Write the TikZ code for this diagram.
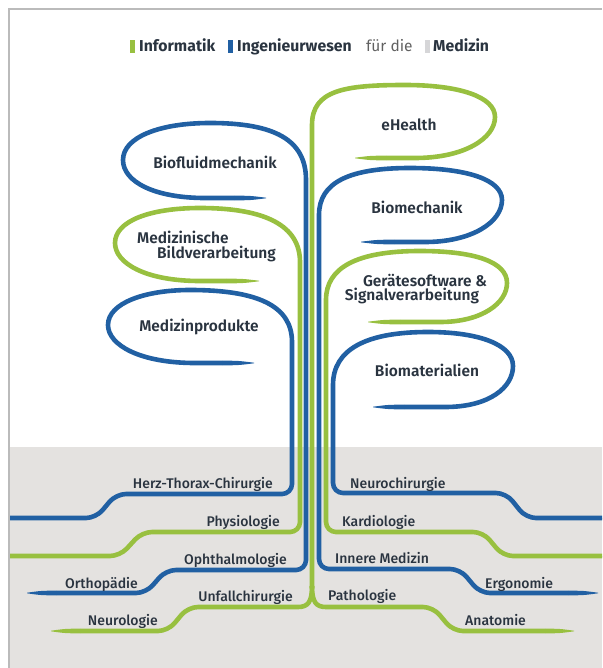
\documentclass[tikz,border=0pt]{standalone}
\usepackage{fontspec}
\setmainfont{Fira Sans}
\newfontfamily\semib{Fira Sans SemiBold}
\newfontfamily\medf{Fira Sans Medium}
\definecolor{igreen}{HTML}{98C040}
\definecolor{iblue}{HTML}{2160A3}
\definecolor{mgray}{HTML}{E4E2E0}
\definecolor{bgray}{HTML}{BBBBBB}
\definecolor{tcol}{HTML}{2A3440}
\definecolor{lgray}{HTML}{D6D6D8}
\newcommand{\tpr}[4]{\fill[#1] (#2,#4-2.3) .. controls ($(#2,#4-2.3)!0.5!(#3,#4-2.3)$) .. (#3,#4-0.3) -- (#3,#4+0.3) .. controls ($(#2,#4+2.3)!0.5!(#3,#4+2.3)$) .. (#2,#4+2.3) -- cycle;}
\usetikzlibrary{calc}
\begin{document}
\begin{tikzpicture}[x=1pt,y=-1pt,
  shadowed/.style={preaction={draw=black,draw opacity=0.25,transform canvas={shift={(0.5pt,-0.9pt)}}}},
  gl/.style={draw=igreen,line width=4.6pt,line cap=butt,line join=round,shadowed},
  bl/.style={draw=iblue,line width=4.6pt,line cap=butt,line join=round,shadowed},
  looplab/.style={font=\semib\fontsize{15.5}{17}\selectfont,text=tcol,inner sep=0pt},
  brlab/.style={font=\medf\fontsize{14}{16}\selectfont,text=tcol,inner sep=0pt},
  leglab/.style={font=\bfseries\fontsize{15.8}{18}\selectfont,text=tcol,inner sep=0pt,anchor=base west},
]
\useasboundingbox (0,0) rectangle (602,668);
% background
\fill[mgray] (9.6,447) rectangle (602,668);
\draw[bgray,line width=1.2pt] (9,668) -- (9,9) -- (602,9);

% legend
\fill[igreen] (130,40) rectangle (135,53);
\node[leglab] (lInf) at (139,52) {Informatik};
\fill[iblue] (228,40) rectangle (233,53);
\node[leglab] (lIng) at (237,52) {Ingenieurwesen};
\node[leglab,font=\fontsize{15.5}{17}\selectfont,text=black!62] (lfd) at (366,52) {für die};
\fill[lgray] (425,40) rectangle (430,53);
\node[leglab] (lMed) at (433,52) {Medizin};

% blue: Medizinprodukte -> Herz-Thorax-Chirurgie
\draw[bl] (222,363) -- (195,363) .. controls (140,363) and (108,345) .. (108,325)
  .. controls (108,303) and (145,290) .. (190,290) .. controls (258,290) and (292,306) .. (292,342)
  [rounded corners=10pt] -- (292,494) -- (116,494) -- (96,518) -- (10,518);
\tpr{iblue}{222}{254}{363}
% green: Bildverarbeitung -> Physiologie
\draw[gl] (226,281) -- (200,281) .. controls (145,281) and (115,263) .. (115,243)
  .. controls (115,221) and (150,208) .. (200,208) .. controls (266,208) and (300,226) .. (300,262)
  [rounded corners=10pt] -- (300,532) -- (142,532) -- (120,556) -- (10,556);
\tpr{igreen}{226}{259}{281}
% blue: Biofluidmechanik -> Ophthalmologie / Orthopaedie
\draw[bl] (234,198) -- (205,198) .. controls (155,198) and (123,182) .. (123,160)
  .. controls (123,137) and (160,123) .. (210,123) .. controls (275,123) and (306,140) .. (306,180)
  [rounded corners=10pt] -- (306,570) -- (166,570) -- (146,593) -- (56,593);
\tpr{iblue}{234}{266}{198}
\tpr{iblue}{56}{27}{593}
% green centre: eHealth -> fork
\draw[gl] (386,158) -- (415,158) .. controls (465,158) and (495,138) .. (495,117)
  .. controls (495,97) and (460,85) .. (405,85) .. controls (345,85) and (312,90) .. (312,125)
  -- (312,588);
\tpr{igreen}{386}{355}{158}
\draw[gl] (312,586) .. controls (312,602) and (308,607) .. (298,607)
  [rounded corners=10pt] -- (188,607) -- (168,631) -- (80,631);
\tpr{igreen}{80}{51}{631}
\draw[gl] (312,586) .. controls (312,602) and (316,607) .. (326,607)
  [rounded corners=10pt] -- (433,607) -- (453,631) -- (545,631);
\tpr{igreen}{545}{574}{631}
% blue: Biomechanik -> Innere Medizin / Ergonomie
\draw[bl] (394,242) -- (425,242) .. controls (472,242) and (502,222) .. (502,200)
  .. controls (502,180) and (468,168) .. (410,168) .. controls (350,168) and (319,182) .. (319,215)
  [rounded corners=10pt] -- (319,569) -- (460,569) -- (480,593) -- (568,593);
\tpr{iblue}{394}{361}{242}
\tpr{iblue}{568}{598}{593}
% green: Geraetesoftware -> Kardiologie
\draw[gl] (400,322) -- (440,322) .. controls (482,322) and (507,303) .. (507,283)
  .. controls (507,262) and (475,251) .. (420,251) .. controls (356,251) and (326,268) .. (326,300)
  [rounded corners=10pt] -- (326,532) -- (483,532) -- (503,556) -- (602,556);
\tpr{igreen}{400}{368}{322}
% blue: Biomaterialien -> Neurochirurgie
\draw[bl] (404,407) -- (445,407) .. controls (490,407) and (513,387) .. (513,366)
  .. controls (513,345) and (480,332) .. (428,332) .. controls (365,332) and (333,350) .. (333,385)
  [rounded corners=10pt] -- (333,493) -- (506,493) -- (526,518) -- (602,518);
\tpr{iblue}{404}{373}{407}

% loop labels
\node[looplab] (biofl) at (215,162) {Biofluidmechanik};
\node[looplab,anchor=west] (medz) at (137,237) {Medizinische};
\node[looplab,anchor=west] (bildv) at (157,254) {Bildverarbeitung};
\node[looplab] (medp) at (199,327) {Medizinprodukte};
\node[looplab] (ehealth) at (409,125) {eHealth};
\node[looplab] (biomech) at (417,207) {Biomechanik};
\node[looplab] (geraet) at (425,280) {Gerätesoftware \&};
\node[looplab] (signal) at (412,296) {Signalverarbeitung};
\node[looplab] (biomat) at (427,370) {Biomaterialien};

% branch labels
\node[brlab,anchor=base east] (herz) at (273,488) {Herz-Thorax-Chirurgie};
\node[brlab,anchor=base east] (phys) at (280,526) {Physiologie};
\node[brlab,anchor=base east] (ophth) at (287,564) {Ophthalmologie};
\node[brlab,anchor=base east] (ortho) at (138,588) {Orthopädie};
\node[brlab,anchor=base east] (unfall) at (293,601) {Unfallchirurgie};
\node[brlab,anchor=base east] (neurol) at (158,625) {Neurologie};
\node[brlab,anchor=base west] (neuroch) at (350,488) {Neurochirurgie};
\node[brlab,anchor=base west] (kardio) at (342,526) {Kardiologie};
\node[brlab,anchor=base west] (innere) at (335,563) {Innere Medizin};
\node[brlab,anchor=base west] (ergo) at (485,588) {Ergonomie};
\node[brlab,anchor=base west] (patho) at (328,600) {Pathologie};
\node[brlab,anchor=base west] (anat) at (465,625) {Anatomie};
\end{tikzpicture}
\end{document}
